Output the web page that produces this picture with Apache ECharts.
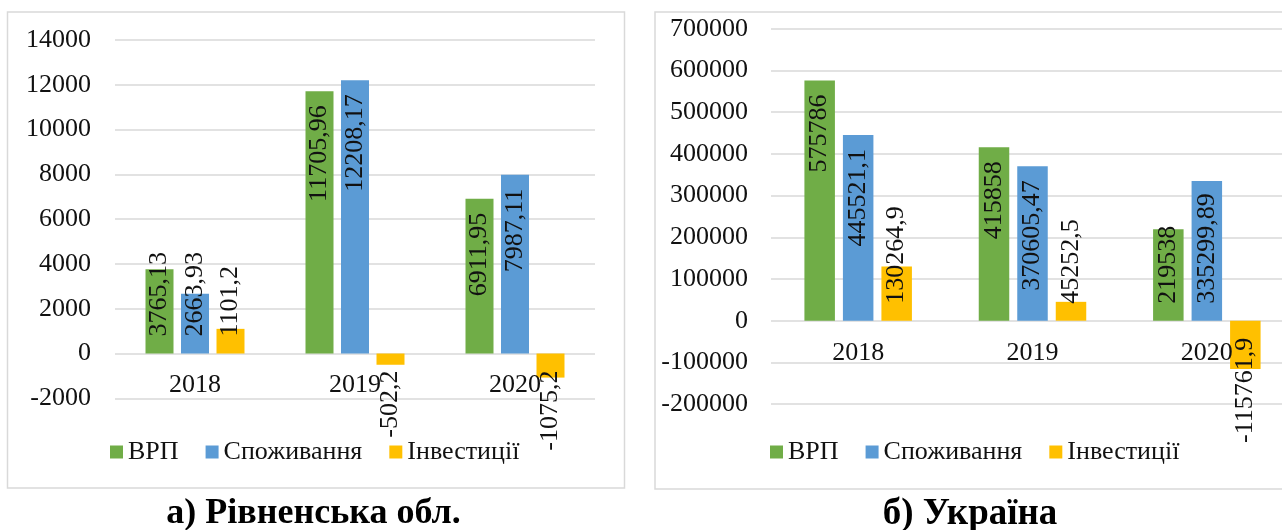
<!DOCTYPE html>
<html>
<head>
<meta charset="utf-8">
<script src="https://cdn.jsdelivr.net/npm/echarts@6/dist/echarts.min.js"></script>
<style>
  html, body { margin: 0; padding: 0; background: #fff; }
  #chart { width: 1282px; height: 530px; }
</style>
</head>
<body>
<div id="chart"></div>
<script>
// Categories and series names
const years = ['2018', '2019', '2020'];
const seriesNames = ['ВРП', 'Споживання', 'Інвестиції'];

// а) Рівненська обл.
const rivneGrp = [3765.13, 11705.96, 6911.95];
const rivneCons = [2663.93, 12208.17, 7987.11];
const rivneInv = [1101.2, -502.2, -1075.2];
const rivneTicks = [-2000, 0, 2000, 4000, 6000, 8000, 10000, 12000, 14000];

// б) Україна
const uaGrp = [575786, 415858, 219538];
const uaCons = [445521.1, 370605.47, 335299.89];
const uaInv = [130264.9, 45252.5, -115761.9];
const uaTicks = [-200000, -100000, 0, 100000, 200000, 300000, 400000, 500000, 600000, 700000];

const panelTitles = ['а) Рівненська обл.', 'б) Україна'];

const FONT_FAMILY = '"Liberation Serif", "Times New Roman", serif';
const FONT_SIZE = 26;
const FONT = FONT_SIZE + 'px ' + FONT_FAMILY;
const TEXT_COLOR = '#111';
const GRID_COLOR = '#d9d9d9';
const COLORS = ['#70ad47', '#5b9bd5', '#ffc000'];

// Values written with a decimal comma
const fmt = v => String(v).replace('.', ',');

const measureCtx = document.createElement('canvas').getContext('2d');
measureCtx.font = FONT;
const textLen = s => measureCtx.measureText(s).width;

// Vertical value labels: near the bar end when they fit, otherwise
// starting from the zero line and running outward.
const END_PAD = 14;
const BASE_PAD = 17;
function valueLabelRenderer(barW, gap) {
  return function (params, api) {
    const cat = api.value(0), k = api.value(1), v = api.value(2);
    const end = api.coord([cat, v]);
    const base = api.coord([cat, 0]);
    const x = end[0] + (k - 1) * (barW + gap);
    const text = fmt(v);
    const len = textLen(text);
    const h = Math.abs(base[1] - end[1]);
    const pos = v >= 0;
    const dir = pos ? -1 : 1;
    let y, align;
    if (h >= len + END_PAD + BASE_PAD) {
      y = end[1] - dir * END_PAD;
      align = pos ? 'right' : 'left';
    } else {
      y = base[1] + dir * BASE_PAD;
      align = pos ? 'left' : 'right';
    }
    return {
      type: 'text', x: x, y: y, rotation: Math.PI / 2,
      style: { text: text, font: FONT, fill: TEXT_COLOR, align: align, verticalAlign: 'middle' }
    };
  };
}

// Year labels sit just under the zero line
const CAT_LABEL_GAP = 19;
function categoryLabelRenderer(params, api) {
  const i = api.value(0);
  const p = api.coord([i, 0]);
  return {
    type: 'text', x: p[0], y: p[1] + CAT_LABEL_GAP,
    style: { text: years[i], font: FONT, fill: TEXT_COLOR, align: 'center', verticalAlign: 'top' }
  };
}

const panels = [
  { values: [rivneGrp, rivneCons, rivneInv], ticks: rivneTicks,
    grid: { left: 115, top: 40, width: 480, height: 358.3 },
    barW: 28, gap: 7.5, labelMargin: 24,
    legendLeft: 110, titleX: 313.5, titleSize: 36 },
  { values: [uaGrp, uaCons, uaInv], ticks: uaTicks,
    grid: { left: 771, top: 28.8, width: 523, height: 375.3 },
    barW: 30.5, gap: 8, labelMargin: 23,
    legendLeft: 770, titleX: 970, titleSize: 37 }
];

const grids = [], xAxes = [], yAxes = [], series = [], legends = [];
panels.forEach((p, pi) => {
  grids.push(Object.assign({ containLabel: false, outerBoundsMode: 'none' }, p.grid));
  xAxes.push({
    type: 'category', gridIndex: pi, data: years,
    axisTick: { show: false },
    axisLine: { show: false },
    axisLabel: { show: false },
    splitLine: { show: false }
  });
  yAxes.push({
    type: 'value', gridIndex: pi,
    min: p.ticks[0], max: p.ticks[p.ticks.length - 1], interval: p.ticks[1] - p.ticks[0],
    axisLine: { show: false }, axisTick: { show: false },
    axisLabel: { color: TEXT_COLOR, fontSize: FONT_SIZE, fontFamily: FONT_FAMILY,
      margin: p.labelMargin, formatter: v => String(v) },
    splitLine: { show: true, lineStyle: { color: GRID_COLOR, width: 1.5 } }
  });
  const labelData = [];
  p.values.forEach((vals, k) => {
    series.push({
      type: 'bar', name: seriesNames[k],
      xAxisIndex: pi, yAxisIndex: pi,
      data: vals,
      barWidth: p.barW,
      barGap: (p.gap / p.barW * 100) + '%',
      itemStyle: { color: COLORS[k] },
      emphasis: { disabled: true },
      z: 2
    });
    vals.forEach((v, i) => labelData.push([i, k, v]));
  });
  series.push({
    type: 'custom', name: 'values-' + pi,
    xAxisIndex: pi, yAxisIndex: pi,
    encode: { x: 0, y: 2 },
    data: labelData,
    renderItem: valueLabelRenderer(p.barW, p.gap),
    clip: false, silent: true, z: 5
  });
  series.push({
    type: 'custom', name: 'years-' + pi,
    xAxisIndex: pi, yAxisIndex: pi,
    encode: { x: 0, y: 1 },
    data: years.map((y, i) => [i, 0]),
    renderItem: categoryLabelRenderer,
    clip: false, silent: true, z: 4
  });
  legends.push({
    data: seriesNames,
    left: p.legendLeft, top: 439, padding: 0,
    icon: 'rect', itemWidth: 13, itemHeight: 13, itemGap: 27,
    textStyle: { color: TEXT_COLOR, fontSize: FONT_SIZE, fontFamily: FONT_FAMILY },
    selectedMode: false
  });
});

const graphics = [
  { type: 'rect', z: -10, shape: { x: 7.5, y: 12, width: 617, height: 476 },
    style: { fill: '#fff', stroke: GRID_COLOR, lineWidth: 1.5 } },
  { type: 'rect', z: -10, shape: { x: 655, y: 12, width: 700, height: 477 },
    style: { fill: '#fff', stroke: GRID_COLOR, lineWidth: 1.5 } }
];
panels.forEach((p, pi) => {
  graphics.push({
    type: 'text', x: p.titleX, y: 514,
    style: { text: panelTitles[pi], font: 'bold ' + p.titleSize + 'px ' + FONT_FAMILY, fill: '#000',
      align: 'center', verticalAlign: 'middle' }
  });
});

const chart = echarts.init(document.getElementById('chart'), null, { renderer: 'canvas' });
chart.setOption({
  animation: false,
  backgroundColor: '#fff',
  grid: grids,
  xAxis: xAxes,
  yAxis: yAxes,
  legend: legends,
  series: series,
  graphic: graphics
});
</script>
</body>
</html>
